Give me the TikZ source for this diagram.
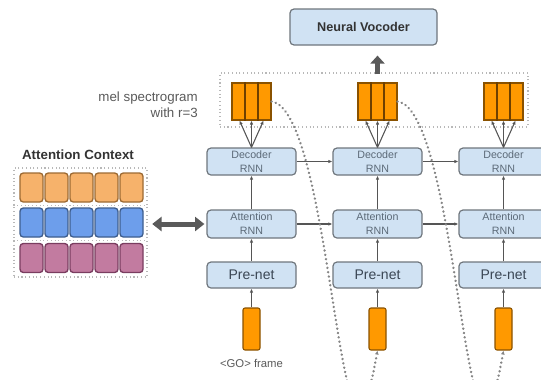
\documentclass[tikz,border=0pt]{standalone}
\usepackage{fontspec}
\setmainfont{Liberation Sans}
\usetikzlibrary{arrows.meta}
\definecolor{boxfill}{HTML}{D0E2F3}
\definecolor{boxline}{HTML}{6F767D}
\definecolor{rnntext}{HTML}{5C6A78}
\definecolor{pretext}{HTML}{3A4654}
\definecolor{connc}{HTML}{555555}
\definecolor{melorange}{HTML}{FF9900}
\definecolor{barline}{HTML}{8A5200}
\definecolor{divc}{HTML}{6E4000}
\definecolor{dotc}{HTML}{B8B8B8}
\definecolor{curvec}{HTML}{858585}
\definecolor{thickc}{HTML}{5A5A5A}
\definecolor{ctxor}{HTML}{F6B26B}
\definecolor{ctxorl}{HTML}{9C6A33}
\definecolor{ctxbl}{HTML}{6D9EEB}
\definecolor{ctxbll}{HTML}{3E5E8E}
\definecolor{ctxpu}{HTML}{C27BA0}
\definecolor{ctxpul}{HTML}{7A3D60}
\definecolor{labc}{HTML}{5A5A5A}
\begin{document}
\begin{tikzpicture}[x=0.75pt,y=-0.75pt,
  rnn/.style={draw=boxline, fill=boxfill, rounded corners=3pt, line width=0.9pt,
    minimum width=66.75pt, minimum height=20.25pt, inner sep=0pt,
    font=\fontsize{8}{10.5}\selectfont, text=rnntext, align=center},
  prebox/.style={rnn, minimum height=19.5pt, font=\fontsize{10.5}{12}\selectfont, text=pretext},
  conn/.style={draw=connc, line width=0.8pt, -{Latex[length=3pt,width=2.6pt]}},
  bar/.style={draw=barline, fill=melorange, rounded corners=1.5pt, minimum width=12.75pt,
    minimum height=31.5pt, inner sep=0pt, line width=0.8pt},
  melblk/.style={draw=barline, fill=melorange, minimum width=29.25pt, minimum height=27.75pt,
    inner sep=0pt, line width=0.8pt},
  divline/.style={draw=divc, line width=1.1pt},
  ctxbox/.style={rounded corners=2.5pt, minimum width=17.25pt, minimum height=21.75pt,
    inner sep=0pt, line width=1pt},
  dotbox/.style={draw=dotc, dotted, line width=0.8pt},
  loopline/.style={draw=curvec, line width=1.9pt, dash pattern=on 0.1pt off 3.2pt, line cap=round,
    -{Latex[length=3pt,width=3pt]}},
  thick arrow/.style={draw=thickc, line width=3.75pt},
  lab/.style={text=labc, inner sep=0pt}
]
\useasboundingbox (0,0) rectangle (541,379);
\clip (0,0) rectangle (541,379);

% Neural vocoder
\node[rnn, minimum width=110.25pt, minimum height=27pt, font=\fontsize{9.5}{11}\bfseries, text=black!80]
  (voc) at (363.5,27) {Neural Vocoder};

% mel spectrogram group
\node[dotbox, minimum width=231pt, minimum height=40.5pt, inner sep=0pt] (melgrp) at (374,100) {};
\node[lab, align=right, anchor=east, font=\fontsize{10}{12}\selectfont] (mellab) at (198,105)
  {mel spectrogram\\with r=3};

% columns
\foreach \i/\cx in {0/251.5,1/377.5,2/503.5}{
  \node[rnn] (dec\i) at (\cx,161.5) {Decoder\\RNN};
  \node[rnn, minimum height=21pt] (att\i) at (\cx,224) {Attention\\RNN};
  \node[prebox] (pre\i) at (\cx,275) {Pre-net};
  \node[bar] (bar\i) at (\cx,329) {};
  \node[melblk] (mel\i) at (\cx,101.5) {};
  \draw[divline] ([xshift=-4.875pt]mel\i.north) -- ([xshift=-4.875pt]mel\i.south);
  \draw[divline] ([xshift=4.875pt]mel\i.north) -- ([xshift=4.875pt]mel\i.south);
  \draw[conn] (bar\i.north) -- (pre\i.south);
  \draw[conn] (pre\i.north) -- (att\i.south);
  \draw[conn] (att\i.north) -- (dec\i.south);
  \draw[conn] (dec\i.north) -- ([xshift=-9pt]mel\i.south);
  \draw[conn] (dec\i.north) -- (mel\i.south);
  \draw[conn] (dec\i.north) -- ([xshift=9pt]mel\i.south);
}
\draw[conn] (dec0.east) -- (dec1.west);
\draw[conn] (dec1.east) -- (dec2.west);
\draw[conn] (att0.east) -- (att1.west);
\draw[conn] (att1.east) -- (att2.west);

% autoregressive loops
\draw[loopline] (mel0.east) .. controls +(62,8) and +(-37,208) .. (bar1.south);
\draw[loopline] (mel1.east) .. controls +(62,8) and +(-37,208) .. (bar2.south);

% arrow to vocoder
\coordinate (upstart) at (mel1 |- melgrp.north);
\coordinate (upend) at (mel1 |- voc.south);
\draw[thick arrow, -{Triangle[length=6pt,width=10.5pt]}]
  ([yshift=-1.5pt]upstart) -- ([yshift=-7.5pt]upend);

\node[lab, font=\fontsize{8.5}{10}\selectfont] (go) at (251.5,363) {\textless GO\textgreater{} frame};

% attention context
\node[font=\fontsize{10}{12}\bfseries, text=black!80, inner sep=0pt] (ctxlab) at (78,155) {Attention Context};
\node[dotbox, minimum width=99.75pt, minimum height=81.75pt, inner sep=0pt] (grid) at (80.5,222.5) {};
\draw[dotbox] (grid.west |- 0,205.5) -- (grid.east |- 0,205.5);
\draw[dotbox] (grid.west |- 0,240.5) -- (grid.east |- 0,240.5);
\foreach \j in {0,...,4}{
  \node[ctxbox, draw=ctxorl, fill=ctxor] (co\j) at (31.5+25*\j,187.5) {};
  \node[ctxbox, draw=ctxbll, fill=ctxbl] (cb\j) at (31.5+25*\j,222.5) {};
  \node[ctxbox, draw=ctxpul, fill=ctxpu] (cp\j) at (31.5+25*\j,258) {};
}
\draw[thick arrow, {Triangle[length=7pt,width=10.5pt]}-{Triangle[length=7pt,width=10.5pt]}]
  ([xshift=3.5pt]grid.east |- att0.west) -- ([xshift=-1.5pt]att0.west);
\end{tikzpicture}
\end{document}
